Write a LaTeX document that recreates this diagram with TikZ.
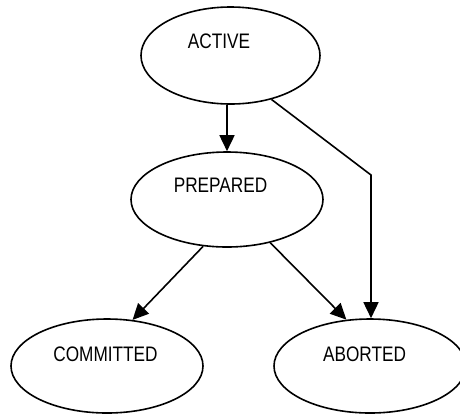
\documentclass[tikz,border=0pt]{standalone}
\usepackage{fontspec}
\setmainfont{Liberation Sans}[FakeStretch=0.82]
\usetikzlibrary{shapes.geometric,arrows.meta}
\begin{document}
\begin{tikzpicture}[x=1pt,y=-1pt,
  state/.style={draw=black,line width=1.6pt,ellipse,inner sep=0pt,
    minimum width=192pt,minimum height=94pt},
  statetext/.style={inner sep=0pt,font=\fontsize{21}{25}\selectfont},
  edge/.style={draw=black,line width=1.6pt,-{Triangle[length=16pt,width=15pt]}}]
\useasboundingbox (0,0) rectangle (460,413);
\node[state,minimum width=179pt,minimum height=97pt] (act) at (230.5,55.5) {};
\node[state,minimum height=95pt] (prep) at (227,199.5) {};
\node[state] (comm) at (107,366) {};
\node[state] (ab) at (370,366) {};
\node[statetext] (tact) at (219,41) {ACTIVE};
\node[statetext] (tprep) at (220.5,185.5) {PREPARED};
\node[statetext] (tcomm) at (105.5,354) {COMMITTED};
\node[statetext] (tab) at (364.5,354) {ABORTED};
\coordinate (bend) at (371,175);
\draw[edge] (act.south -| prep.north) -- (prep.north);
\draw[edge] (act.313) -- (bend) -- (bend |- ab.north);
\draw[edge] (prep.243) -- (comm.61);
\draw[edge] (prep.315) -- (ab.117);
\end{tikzpicture}
\end{document}
